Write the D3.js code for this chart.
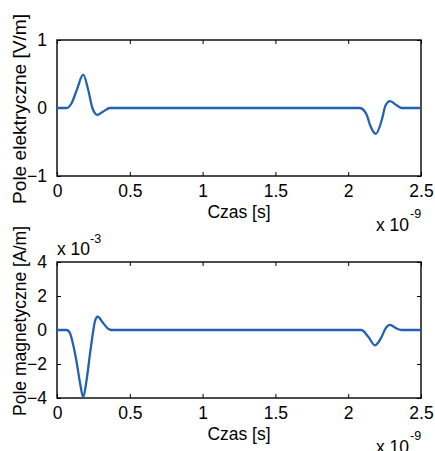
<!DOCTYPE html>
<html><head><meta charset="utf-8">
<script src="https://cdn.jsdelivr.net/npm/d3@7"></script>
<style>body{margin:0;background:#fff}svg{display:block}text{font-family:"Liberation Sans",Arial,sans-serif;fill:#000}</style>
</head><body>
<script>
// time in units of 1e-9 s
const eTime = [0, 0.067, 0.10, 0.135, 0.18, 0.215, 0.243, 0.277, 0.318, 0.364, 2.08, 2.127, 2.15, 2.19, 2.23, 2.257, 2.287, 2.333, 2.367, 2.5];
const eValues = [0, 0, 0.07, 0.26, 0.49, 0.26, 0, -0.1, -0.05, 0, 0, -0.1, -0.25, -0.38, -0.18, 0.04, 0.1, 0.04, 0, 0];
// magnetic field in units of 1e-3 A/m
const hTime = [0, 0.067, 0.09, 0.112, 0.135, 0.158, 0.18, 0.204, 0.227, 0.25, 0.26, 0.279, 0.318, 0.348, 0.375, 2.09, 2.138, 2.184, 2.23, 2.257, 2.287, 2.33, 2.367, 2.5];
const hValues = [0, 0, -0.2, -0.9, -1.9, -3.1, -3.95, -2.9, -1.37, 0, 0.5, 0.78, 0.4, 0.1, 0, 0, -0.4, -0.9, -0.4, 0.1, 0.3, 0.1, 0, 0];
const xTicks = [0, 0.5, 1, 1.5, 2, 2.5];
const xTickLabels = ["0", "0.5", "1", "1.5", "2", "2.5"];
const eTicks = [-1, 0, 1];
const hTicks = [-4, -2, 0, 2, 4];

const W = 435, H = 451;
const FS = 17.5;
const svg = d3.select("body").append("svg").attr("width", W).attr("height", H);
const lineColor = "#2262b0";

function panel(top, bottom, yDomain, yTicks, times, vals, ylabel, ylabelCenter, yExp) {
  const x = d3.scaleLinear().domain([0, 2.5]).range([57, 421]);
  const y = d3.scaleLinear().domain(yDomain).range([bottom, top]);
  const g = svg.append("g");
  const tl = 4;
  const xb = d3.axisBottom(x).tickValues(xTicks).tickSize(-tl).tickFormat((d,i)=>xTickLabels[i]).tickPadding(9);
  const xt = d3.axisTop(x).tickValues(xTicks).tickSize(-tl).tickFormat("");
  const yl = d3.axisLeft(y).tickValues(yTicks).tickSize(-tl).tickPadding(10).tickFormat(d3.format("d"));
  const yr = d3.axisRight(y).tickValues(yTicks).tickSize(-tl).tickFormat("");
  const styleAx = s => {
    s.select(".domain").remove();
    s.selectAll(".tick line").attr("stroke", "#000");
    s.selectAll("text").attr("font-size", FS).attr("font-family", "Liberation Sans, Arial, sans-serif").attr("fill", "#000");
  };
  g.append("g").attr("transform", `translate(0,${bottom})`).call(xb).call(styleAx);
  g.append("g").attr("transform", `translate(0,${top})`).call(xt).call(styleAx);
  g.append("g").attr("transform", `translate(57,0)`).call(yl).call(styleAx);
  g.append("g").attr("transform", `translate(421,0)`).call(yr).call(styleAx);
  g.append("rect").attr("x", 57).attr("y", top).attr("width", 364).attr("height", bottom - top)
    .attr("fill", "none").attr("stroke", "#000").attr("stroke-width", 1.4);
  const line = d3.line().x((d,i)=>x(times[i])).y(d=>y(d)).curve(d3.curveMonotoneX);
  g.append("path").datum(vals).attr("d", line).attr("fill", "none")
    .attr("stroke", lineColor).attr("stroke-width", 2.3).attr("stroke-linejoin", "round");
  g.append("text").attr("x", 239).attr("y", bottom + 42).attr("text-anchor", "middle")
    .attr("font-size", FS).text("Czas [s]");
  g.append("text").attr("x", 376).attr("y", bottom + 55).attr("font-size", FS).text("x 10");
  g.append("text").attr("x", 410).attr("y", bottom + 42).attr("font-size", 12.5).text("-9");
  g.append("text").attr("transform", `translate(26,${ylabelCenter}) rotate(-90)`)
    .attr("text-anchor", "middle").attr("font-size", 18.5)
    .attr("textLength", 190).attr("lengthAdjust", "spacingAndGlyphs").text(ylabel);
  if (yExp) {
    g.append("text").attr("x", 57).attr("y", top - 7).attr("font-size", FS).text("x 10");
    g.append("text").attr("x", 90).attr("y", top - 19).attr("font-size", 12.5).text(yExp);
  }
}

panel(40, 176, [-1, 1], eTicks, eTime, eValues, "Pole elektryczne [V/m]", 109, null);
panel(262, 398, [-4, 4], hTicks, hTime, hValues, "Pole magnetyczne [A/m]", 321, "-3");
</script>
</body></html>
